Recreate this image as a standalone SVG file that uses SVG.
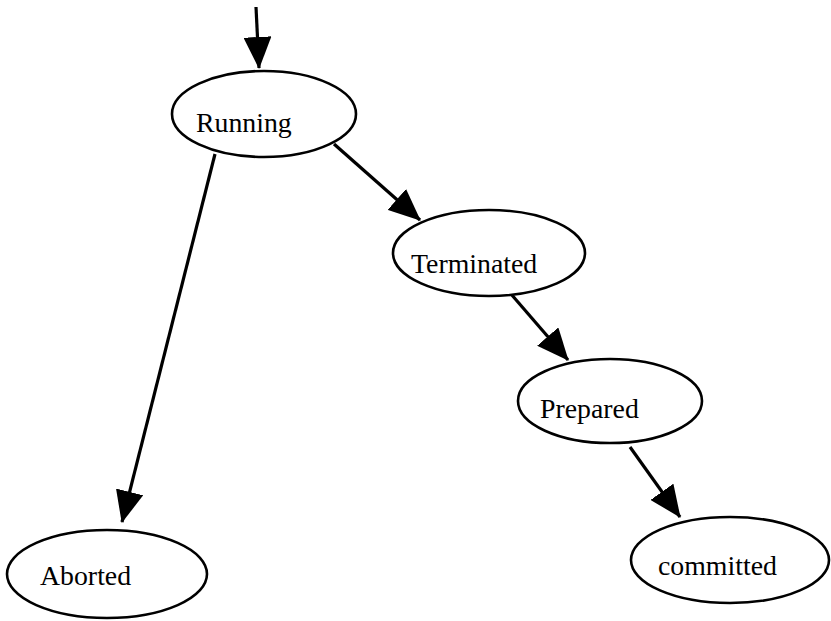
<svg xmlns="http://www.w3.org/2000/svg" width="831" height="621" viewBox="0 0 831 621">
<style>
.node ellipse{fill:#fff;stroke:#000;stroke-width:2.6}
.node text{font-family:"Liberation Serif","Times New Roman",serif;font-size:27.8px;fill:#000}
.edge{stroke:#000;stroke-width:3.2;fill:none;marker-end:url(#arr)}
</style>
<defs>
<marker id="arr" viewBox="0 0 32 28" refX="31" refY="14" markerWidth="32" markerHeight="28" markerUnits="userSpaceOnUse" orient="auto">
<path d="M0,0 L32,14 L0,28 Z" fill="#000"/>
</marker>
</defs>
<rect width="831" height="621" fill="#fff"/>
<g id="connectors">
<line class="edge" x1="256" y1="7" x2="259" y2="68"/>
<line class="edge" x1="334" y1="144" x2="420" y2="220"/>
<line class="edge" x1="511" y1="294" x2="568" y2="360"/>
<line class="edge" x1="630" y1="447" x2="680" y2="517"/>
<line class="edge" x1="215" y1="154" x2="122" y2="522"/>
</g>
<g id="running" class="node">
<ellipse cx="264" cy="114" rx="92" ry="43"/>
<text x="196" y="132">Running</text>
</g>
<g id="terminated" class="node">
<ellipse cx="489" cy="253" rx="96" ry="43"/>
<text x="411" y="273">Terminated</text>
</g>
<g id="prepared" class="node">
<ellipse cx="610" cy="401" rx="92" ry="42"/>
<text x="540" y="418">Prepared</text>
</g>
<g id="committed" class="node">
<ellipse cx="730" cy="560" rx="99" ry="43"/>
<text x="658" y="575">committed</text>
</g>
<g id="aborted" class="node">
<ellipse cx="107" cy="574" rx="100" ry="44"/>
<text x="40" y="585">Aborted</text>
</g>
</svg>
